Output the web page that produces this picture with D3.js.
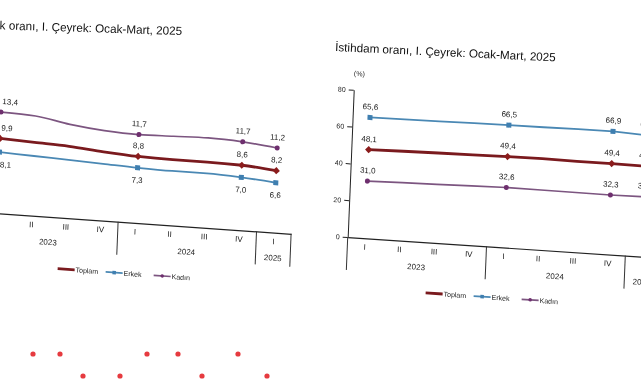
<!DOCTYPE html>
<html>
<head>
<meta charset="utf-8">
<script src="https://cdn.jsdelivr.net/npm/d3@7"></script>
<style>
  body { margin: 0; background: #fff; }
  svg { display: block; font-family: "Liberation Sans", Arial, sans-serif; }
  svg text { filter: grayscale(100%); }
</style>
</head>
<body>
<div id="chart"></div>
<script>
// categories
const quarters = ["I", "II", "III", "IV", "I", "II", "III", "IV", "I"];
const years = ["2023", "2024", "2025"];
const yearStart = [0, 4, 8];
const yearCount = [4, 4, 1];
const labelAt = [0, 4, 7, 8];   // quarters that carry a value label

// İşsizlik oranı (%)
const unempTotal = [9.9, 9.7, 9.5, 9.1, 8.8, 8.7, 8.7, 8.6, 8.2];
const unempMen   = [8.1, 7.9, 7.7, 7.5, 7.3, 7.2, 7.2, 7.0, 6.6];
const unempWomen = [13.4, 13.2, 12.4, 11.9, 11.7, 11.8, 11.9, 11.7, 11.2];

// İstihdam oranı (%)
const empTotal = [48.1, 48.5, 48.8, 49.1, 49.4, 49.5, 49.3, 49.4, 49.2];
const empMen   = [65.6, 65.8, 66.0, 66.3, 66.5, 66.6, 66.8, 66.9, 66.0];
const empWomen = [31.0, 31.4, 31.8, 32.2, 32.6, 32.5, 32.4, 32.3, 32.6];

const empTicks = [0, 20, 40, 60, 80];

const seriesNames = ["Toplam", "Erkek", "Kadın"];

const style = {
  "Toplam": {color: "#7a1a1e", width: 2.8, marker: "diamond", fill: "#8b1c1c"},
  "Erkek":  {color: "#4a88b4", width: 1.8, marker: "square",  fill: "#3f7fb0"},
  "Kadın":  {color: "#7c5580", width: 1.7, marker: "circle",  fill: "#6e2f6e"}
};

const svg = d3.select("#chart")
    .append("svg")
    .attr("width", 641)
    .attr("height", 380);

const fmt = v => d3.format(".1f")(v).replace(".", ",");

function marker(sel, type, size) {
    if (type === "square") {
        sel.append("rect")
            .attr("x", -size / 2).attr("y", -size / 2)
            .attr("width", size).attr("height", size);
    } else if (type === "diamond") {
        const s = size * 0.6;
        sel.append("path").attr("d", `M0,${-s}L${s},0L0,${s}L${-s},0Z`);
    } else {
        sel.append("circle").attr("r", size * 0.5);
    }
}

function drawChart(cfg) {
    // the page is photographed a little tilted, so each chart sits in a sheared frame
    const g = svg.append("g")
        .attr("transform", `matrix(1,${cfg.skewY},${cfg.skewX},1,${cfg.left},${cfg.top})`);

    const width = quarters.length * cfg.step;
    const x = d3.scaleBand().domain(d3.range(quarters.length)).range([0, width]);
    const cx = i => x(i) + x.bandwidth() / 2;
    const y = d3.scaleLinear().domain(cfg.domain).range([0, -cfg.height]);

    // y axis (the left chart's one lies outside the photo)
    if (cfg.ticks) {
        g.append("g")
            .call(d3.axisLeft(y).tickValues(cfg.ticks).tickSize(5).tickPadding(3).tickSizeOuter(0))
            .attr("font-size", 7)
            .attr("font-family", null)
            .call(a => a.selectAll("path, line").attr("stroke", "#222"))
            .call(a => a.selectAll("text").attr("fill", "#222"));
    }

    if (cfg.unit) {
        g.append("text")
            .attr("x", 5).attr("y", -cfg.height - 14)
            .attr("font-size", 7)
            .attr("text-anchor", "middle")
            .attr("fill", "#222")
            .text(cfg.unit);
    }

    // x axis
    g.append("g")
        .call(d3.axisBottom(x).tickSize(0).tickPadding(6).tickSizeOuter(0).tickFormat(i => quarters[i]))
        .attr("font-size", 8)
        .attr("font-family", null)
        .call(a => a.select(".domain").attr("stroke", "#222").attr("stroke-width", 1.2))
        .call(a => a.selectAll("text").attr("fill", "#222"));

    // year separators
    const bounds = yearStart.concat([quarters.length]);
    g.selectAll(".sep")
        .data(bounds)
        .join("line")
        .attr("x1", i => i < quarters.length ? x(i) : width)
        .attr("x2", i => i < quarters.length ? x(i) : width)
        .attr("y1", 0)
        .attr("y2", 33)
        .attr("stroke", "#333")
        .attr("stroke-width", 1);

    g.selectAll(".year")
        .data(years)
        .join("text")
        .attr("x", (d, k) => x(yearStart[k]) + yearCount[k] * cfg.step / 2)
        .attr("y", 28)
        .attr("text-anchor", "middle")
        .attr("font-size", 8)
        .attr("fill", "#222")
        .text(d => d);

    // lines
    const line = d3.line()
        .x((d, i) => cx(i))
        .y(d => y(d))
        .curve(cfg.curve);

    seriesNames.forEach((name, s) => {
        const vals = cfg.data[s];
        const st = style[name];

        g.append("path")
            .datum(vals)
            .attr("fill", "none")
            .attr("stroke", st.color)
            .attr("stroke-width", st.width)
            .attr("stroke-linejoin", "round")
            .attr("d", line);

        g.selectAll(".m" + s)
            .data(labelAt)
            .join("g")
            .attr("transform", i => `translate(${cx(i)},${y(vals[i])})`)
            .attr("fill", st.fill)
            .each(function () { marker(d3.select(this), st.marker, name === "Toplam" ? 6 : 5); });

        const below = cfg.below.includes(name);
        g.selectAll(".l" + s)
            .data(labelAt)
            .join("text")
            .attr("x", i => (i === 0 && cfg.firstStart) ? cx(i) + 1 : cx(i))
            .attr("y", i => y(vals[i]) + (below ? 15 : -8))
            .attr("text-anchor", i => (i === 0 && cfg.firstStart) ? "start" : "middle")
            .attr("font-size", 8)
            .attr("fill", "#222")
            .text(i => fmt(vals[i]));
    });

    // legend
    const lg = g.append("g").attr("transform", `translate(80,${cfg.legendY})`);
    seriesNames.forEach((name, k) => {
        const st = style[name];
        const item = lg.append("g").attr("transform", `translate(${k * 48},0)`);
        item.append("line")
            .attr("x1", 0).attr("x2", 17)
            .attr("stroke", st.color)
            .attr("stroke-width", st.width);
        if (name !== "Toplam") {
            item.append("g")
                .attr("transform", "translate(8.5,0)")
                .attr("fill", st.fill)
                .call(m => marker(m, st.marker, 3.5));
        }
        item.append("text")
            .attr("x", 18).attr("y", 2.5)
            .attr("font-size", 7)
            .attr("fill", "#222")
            .text(name);
    });
}

drawChart({
    left: -20.3, top: 212, skewY: 0.07, skewX: -0.04,
    step: 34.6, domain: [0, 16], height: 120.8,
    data: [unempTotal, unempMen, unempWomen],
    below: ["Erkek"], curve: d3.curveMonotoneX, legendY: 51, firstStart: true
});

drawChart({
    left: 347.7, top: 237, skewY: 0.067, skewX: -0.041,
    step: 34.7, domain: [0, 80], height: 147.2, ticks: empTicks,
    data: [empTotal, empMen, empWomen],
    below: [], curve: d3.curveLinear, legendY: 50.5, unit: "(%)"
});

// titles
svg.append("text")
    .attr("transform", "translate(182,35) rotate(1.8)")
    .attr("text-anchor", "end")
    .attr("font-size", 11.7)
    .attr("fill", "#111")
    .text("İşsizlik oranı, I. Çeyrek: Ocak-Mart, 2025");

svg.append("text")
    .attr("transform", "translate(335,51) rotate(2.7)")
    .attr("font-size", 11.7)
    .attr("fill", "#111")
    .text("İstihdam oranı, I. Çeyrek: Ocak-Mart, 2025");

// decorative red dots along the bottom of the page
const dotsUpper = [33, 60, 147, 178, 238];
const dotsLower = [83, 120, 202, 267];
svg.selectAll(".dotU").data(dotsUpper).join("circle")
    .attr("cx", d => d).attr("cy", 354).attr("r", 2.6).attr("fill", "#e63a3f");
svg.selectAll(".dotL").data(dotsLower).join("circle")
    .attr("cx", d => d).attr("cy", 376).attr("r", 2.6).attr("fill", "#e63a3f");
</script>
</body>
</html>
